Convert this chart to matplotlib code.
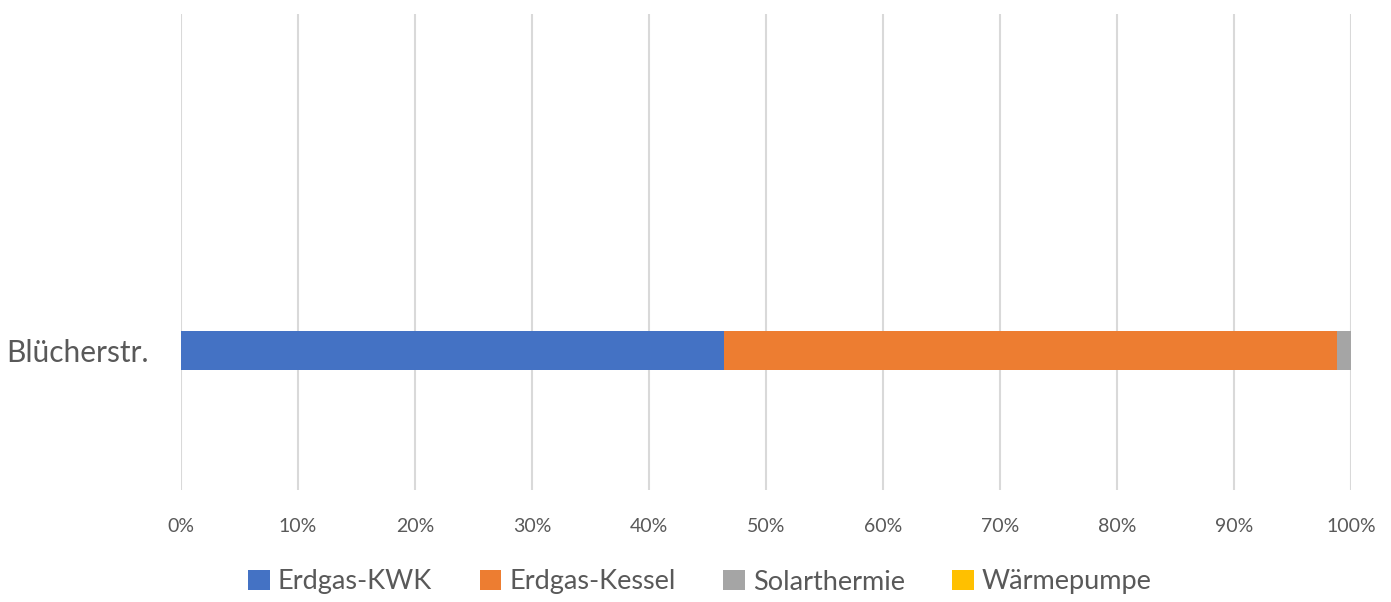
import matplotlib
matplotlib.use("Agg")
import matplotlib.pyplot as plt
from matplotlib.ticker import PercentFormatter
from matplotlib.patches import Patch

categories = ["Blücherstr."]
series_names = ["Erdgas-KWK", "Erdgas-Kessel", "Solarthermie", "Wärmepumpe"]
erdgas_kwk = [46.4]
erdgas_kessel = [52.4]
solarthermie = [1.2]
waermepumpe = [0.0]
xticks = list(range(0, 101, 10))

colors = ["#4472C4", "#ED7D31", "#A5A5A5", "#FFC000"]
text_color = "#595959"
plt.rcParams["font.family"] = ["Lato", "DejaVu Sans"]

fig = plt.figure(figsize=(13.91, 6.02), dpi=100)
ax = fig.add_axes([181/1391, 1-490/602, 1170/1391, 476/602])

values = [erdgas_kwk, erdgas_kessel, solarthermie, waermepumpe]
left = [0.0] * len(categories)
for name, vals, c in zip(series_names, values, colors):
    ax.barh(range(len(categories)), vals, left=left, height=0.082, color=c, label=name, zorder=3)
    left = [l + v for l, v in zip(left, vals)]

ax.set_xlim(0, 100)
ax.set_ylim(-0.293, 0.707)
ax.set_xticks(xticks)
ax.xaxis.set_major_formatter(PercentFormatter(decimals=0))
ax.set_yticks(range(len(categories)))
ax.set_yticklabels(categories, fontsize=21.5, color=text_color)
ax.tick_params(axis="x", labelsize=14, colors=text_color, length=0, pad=20)
ax.tick_params(axis="y", length=0, pad=23)
ax.grid(axis="x", color="#D9D9D9", linewidth=1.5, zorder=0)
for s in ax.spines.values():
    s.set_visible(False)

handles = [Patch(facecolor=c, edgecolor="none") for c in colors]
fig.legend(handles, series_names, loc="center", bbox_to_anchor=(700/1391, 1-582/602),
           ncol=4, frameon=False, fontsize=19.5, handlelength=0.8, handleheight=0.8,
           handletextpad=0.3, columnspacing=1.75, labelcolor=text_color)

fig.savefig("out.png", dpi=100)
